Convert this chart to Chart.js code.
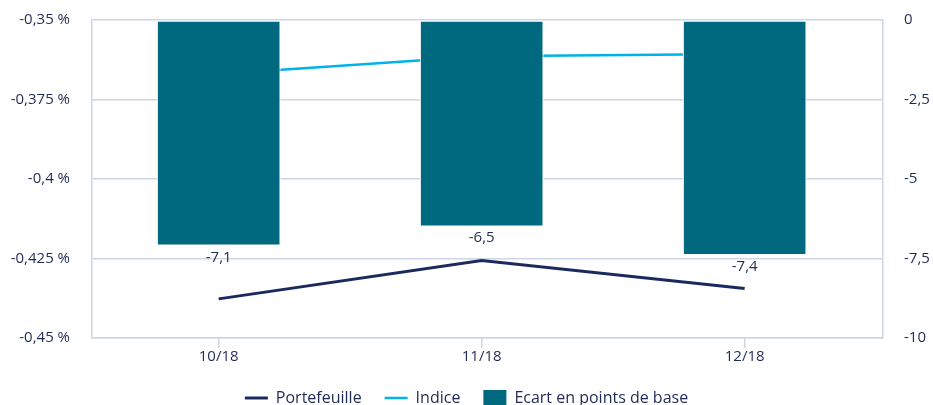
<!DOCTYPE html>
<html>
<head>
<meta charset="utf-8">
<script src="https://cdn.jsdelivr.net/npm/chart.js@4.4.1/dist/chart.umd.min.js"></script>
<style>
  html, body { margin: 0; padding: 0; background: #ffffff; }
  #wrap { width: 933px; height: 405px; }
</style>
</head>
<body>
<div id="wrap"><canvas id="c" width="933" height="405"></canvas></div>
<script>
const categories = ['10/18', '11/18', '12/18'];
const seriesNames = ['Portefeuille', 'Indice', 'Ecart en points de base'];
const portefeuille = [-0.4377, -0.4256, -0.4344];
const indice = [-0.3670, -0.3614, -0.3607];
const ecart = [-7.1, -6.5, -7.4];
const leftTickValues = [-0.45, -0.425, -0.4, -0.375, -0.35];
const leftTickLabels = ['-0,45 %', '-0,425 %', '-0,4 %', '-0,375 %', '-0,35 %'];
const rightTickValues = [-10, -7.5, -5, -2.5, 0];
const rightTickLabels = ['-10', '-7,5', '-5', '-2,5', '0'];

const NAVY = '#1b2a5e';
const LIGHT = '#00b2ea';
const TEAL = '#00697f';
const GRID = '#cdd7e3';
const TEXT = '#1f2b57';
const FONT = '"Open Sans"';
const FS = 15;
const LFS = 16;

const toXY = arr => arr.map((v, i) => ({ x: i, y: v }));

const barLabels = {
  id: 'barLabels',
  afterDatasetsDraw(chart) {
    const ctx = chart.ctx;
    chart.data.datasets.forEach((ds, di) => {
      if (ds.type !== 'bar') return;
      const meta = chart.getDatasetMeta(di);
      meta.data.forEach((el, i) => {
        const txt = String(ds.data[i].y).replace('.', ',');
        ctx.save();
        ctx.font = FS + 'px ' + FONT;
        ctx.fillStyle = TEXT;
        ctx.textAlign = 'center';
        ctx.textBaseline = 'top';
        ctx.fillText(txt, el.x, el.y + 4);
        ctx.restore();
      });
    });
  }
};

new Chart(document.getElementById('c'), {
  data: {
    datasets: [
      {
        type: 'line', label: seriesNames[0], data: toXY(portefeuille), yAxisID: 'y',
        borderColor: NAVY, backgroundColor: NAVY, borderWidth: 3, pointRadius: 0,
        tension: 0, order: 2
      },
      {
        type: 'line', label: seriesNames[1], data: toXY(indice), yAxisID: 'y',
        borderColor: LIGHT, backgroundColor: LIGHT, borderWidth: 2.5, pointRadius: 0,
        tension: 0, order: 1
      },
      {
        type: 'bar', label: seriesNames[2], data: toXY(ecart), yAxisID: 'y1',
        backgroundColor: TEAL, borderColor: '#ffffff', borderWidth: 1.2, borderSkipped: false,
        barPercentage: 0.4715, categoryPercentage: 1, order: 0
      }
    ]
  },
  options: {
    responsive: false,
    devicePixelRatio: 1,
    animation: false,
    layout: { padding: { top: 20, left: 0, right: 0, bottom: -11 } },
    plugins: {
      tooltip: { enabled: false },
      legend: {
        position: 'bottom',
        labels: {
          font: { size: LFS, family: FONT },
          color: TEXT,
          usePointStyle: true,
          pointStyleWidth: 23,
          boxHeight: 16,
          padding: 23,
          generateLabels(chart) {
            const items = Chart.defaults.plugins.legend.labels.generateLabels(chart);
            items.forEach(it => {
              const ds = chart.data.datasets[it.datasetIndex];
              if (ds.type === 'bar') {
                it.pointStyle = 'rect';
                it.lineWidth = 0;
                it.strokeStyle = ds.backgroundColor;
                it.fillStyle = ds.backgroundColor;
              } else {
                it.pointStyle = 'line';
                it.lineWidth = ds.borderWidth;
                it.strokeStyle = ds.borderColor;
              }
            });
            return items.sort((a, b) => a.datasetIndex - b.datasetIndex);
          }
        }
      }
    },
    scales: {
      x: {
        type: 'linear',
        offset: false,
        min: -0.4817,
        max: 2.526,
        afterBuildTicks(scale) { scale.ticks = categories.map((c, i) => ({ value: i })); },
        afterFit(scale) { scale.height = 29; },
        ticks: {
          callback: (v) => categories[v],
          font: { size: FS, family: FONT },
          color: TEXT,
          padding: 0,
          maxRotation: 0,
          autoSkip: false
        },
        grid: { offset: false, drawOnChartArea: false, drawTicks: true, tickLength: 10, color: GRID, lineWidth: 1.5 },
        border: { color: GRID, width: 1.5 }
      },
      y: {
        position: 'left',
        min: -0.45,
        max: -0.35,
        afterBuildTicks(scale) { scale.ticks = leftTickValues.map(v => ({ value: v })); },
        afterFit(scale) { scale.width = 92; },
        ticks: {
          callback: (v, i) => leftTickLabels[i],
          font: { size: FS, family: FONT },
          color: TEXT,
          padding: 0
        },
        grid: { color: GRID, lineWidth: 1.5, drawTicks: true, tickLength: 22, tickColor: 'rgba(0,0,0,0)' },
        border: { color: GRID, width: 1.5 }
      },
      y1: {
        position: 'right',
        min: -10,
        max: 0,
        afterBuildTicks(scale) { scale.ticks = rightTickValues.map(v => ({ value: v })); },
        afterFit(scale) { scale.width = 50; },
        ticks: {
          callback: (v, i) => rightTickLabels[i],
          font: { size: FS, family: FONT },
          color: TEXT,
          padding: 0
        },
        grid: { drawOnChartArea: false, drawTicks: true, tickLength: 21, tickColor: 'rgba(0,0,0,0)' },
        border: { color: GRID, width: 1.5 }
      }
    }
  },
  plugins: [barLabels]
});
</script>
</body>
</html>
